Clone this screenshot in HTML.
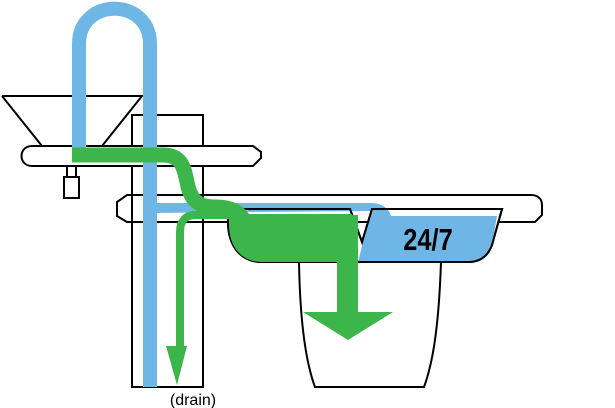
<!DOCTYPE html>
<html><head><style>html,body{margin:0;padding:0;background:#fff;width:615px;height:408px;overflow:hidden}</style></head>
<body>
<svg width="615" height="408" viewBox="0 0 615 408" xmlns="http://www.w3.org/2000/svg">
<g fill="none" stroke="#000" stroke-width="2">
  <path d="M2,96 H142 L102,146 M42,146 L2,96"/>
  <path d="M132,387 V115 H203 V387 Z" fill="#fff"/>
  <path d="M32,146 H253 L261,152 V158 L253,166 H32 C18,166 18,146 32,146 Z" fill="#fff"/>
  <rect x="64" y="177" width="15" height="21" fill="#fff"/>
  <rect x="67" y="166" width="9" height="11" fill="#fff"/>
  <path d="M127,195 H531 C538,195 542,199 542,205 V215 L535,222 H127 L117,216 V202 Z" fill="#fff"/>
  <path d="M132,195 V222 M203,195 V222" />
  <path d="M299,262 C300,320 305,360 315,387 H424 C434,360 439,320 441,262" fill="#fff"/>
  <path d="M228,209 H350 L362,242 L372,209 H502 L492,245 C488,256 480,262 468,262 H262 C240,262 228,245 228,222 Z" fill="#fff"/>
</g>
<path d="M388,216 H497 L492,245 C488,256 480,262 468,262 H358 Z" fill="#6db6e6"/>
<path d="M150,203 H370 C383,203 389,209 391,216 L388,262 L358,262 L371,211 L150,213 Z" fill="#6db6e6"/>
<path d="M228,209 H350 L362,242 L372,209 H502 L492,245 C488,256 480,262 468,262 H262 C240,262 228,245 228,222" fill="none" stroke="#000" stroke-width="2"/>
<path d="M79,150 V44 C79,-3 150,-3 150,44 V387" fill="none" stroke="#6db6e6" stroke-width="14"/>
<path d="M229,214 H352 L358,240 L358,262 H262 C240,262 229,245 229,225 Z" fill="#3cb54a"/>
<path d="M72,155 H163 C182,155 184,168 187,182 C190,198 196,207 215,207 C232,207 240,212 245,222" fill="none" stroke="#3cb54a" stroke-width="15"/>
<path d="M337,215 H358 V312 H393 L348,340 L303,312 H337 Z" fill="#3cb54a"/>
<path d="M232,215 H195 C185,215 180,222 180,232 V348" fill="none" stroke="#3cb54a" stroke-width="8"/>
<path d="M166,346 H187 L177,385 Z" fill="#3cb54a"/>
<text x="428" y="250" text-anchor="middle" font-family="Liberation Sans Narrow, Liberation Sans, sans-serif" font-weight="bold" font-size="31" transform="translate(428,0) scale(0.82,1) translate(-428,0)">24/7</text>
<text x="193" y="405" text-anchor="middle" font-family="Liberation Sans, sans-serif" font-size="16">(drain)</text>
</svg>
</body></html>
